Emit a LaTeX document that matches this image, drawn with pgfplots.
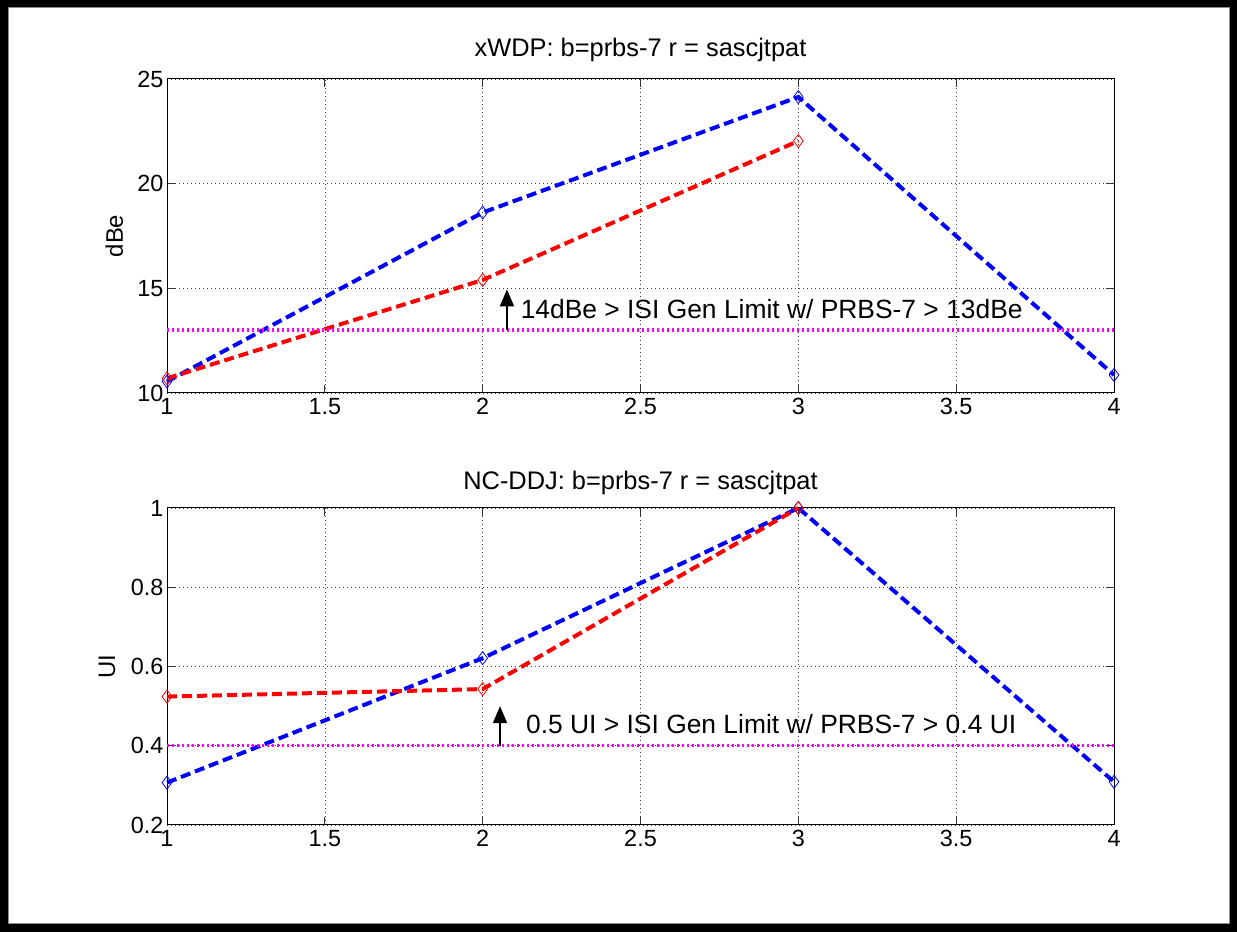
\documentclass[border=0pt]{standalone}
\usepackage{fontspec}
\setmainfont{Liberation Sans}
\usepackage{pgfplots}
\pgfplotsset{compat=1.18}
\usetikzlibrary{arrows.meta}
\pgfplotsset{
  mlaxis/.style={
    scale only axis, width=947bp, xmin=1, xmax=4,
    xtick={1,1.5,2,2.5,3,3.5,4},
    grid=major,
    major grid style={black!75, line width=0.6bp, dash pattern=on 1bp off 3bp},
    tick align=inside, major tick length=8bp,
    tick style={black!80, line width=1bp},
    axis line style={black, line width=1bp},
    /pgf/number format/assume math mode=true,
    tick label style={font=\fontsize{23.5}{27}\selectfont},
    xticklabel style={yshift=-2bp},
    title style={font=\fontsize{25.5}{29}\selectfont, at={(axis description cs:0.5,1)}, anchor=base},
    ylabel style={font=\fontsize{24}{28}\selectfont, anchor=base},
    clip=false,
  },
  bl/.style={color={rgb,1:red,0;green,0;blue,1}, line width=4bp, dash pattern=on 10bp off 5bp,
    mark=diamond, mark size=6.5bp, mark options={solid, line width=0.8bp}},
  rd/.style={color={rgb,1:red,1;green,0;blue,0}, line width=4bp, dash pattern=on 10bp off 5bp,
    mark=diamond, mark size=6.5bp, mark options={solid, line width=0.8bp}},
  mg/.style={color={rgb,1:red,1;green,0;blue,1}, line width=3.5bp, dash pattern=on 1.5bp off 3.5bp},
}
\begin{document}
\begin{tikzpicture}
\path[use as bounding box] (0,0) rectangle (1237bp,932bp);
\fill[white] (0,0) rectangle (1237bp,932bp);
\draw[black, line width=7.5bp] (3.75bp,3.75bp) rectangle (1233.25bp,928.25bp);
\draw[black!45, line width=1bp] (8bp,8bp) rectangle (1229bp,924bp);

% top axis
\begin{axis}[mlaxis, height=314bp, at={(167bp,539bp)}, anchor=south west,
  ymin=10, ymax=25, ytick={10,15,20,25},
  title={xWDP: b=prbs-7 r = sascjtpat}, title style={yshift=17bp},
  ylabel={dBe}, ylabel style={at={(axis description cs:-0.0465,0.5)}}]
\addplot[bl] coordinates {(1,10.55) (2,18.62) (3,24.14) (4,10.86)};
\addplot[rd] coordinates {(1,10.70) (2,15.40) (3,22.04)};
\addplot[mg] coordinates {(1,13) (4,13)};
\draw[black, line width=1.8bp, -{Triangle[length=17bp,width=14bp]}] (axis cs:2.077,13) -- (axis cs:2.077,14.95);
\node[anchor=base west, inner sep=0pt, font=\fontsize{26.5}{30}\selectfont] at (axis cs:2.12,13.57) {14dBe > ISI Gen Limit w/ PRBS-7 > 13dBe};
\end{axis}

% bottom axis
\begin{axis}[mlaxis, height=317bp, at={(167bp,107bp)}, anchor=south west,
  ymin=0.2, ymax=1, ytick={0.2,0.4,0.6,0.8,1},
  title={NC-DDJ: b=prbs-7 r = sascjtpat}, title style={yshift=13bp},
  ylabel={UI}, ylabel style={at={(axis description cs:-0.0549,0.5)}}]
\addplot[bl] coordinates {(1,0.307) (2,0.621) (3,1.0) (4,0.309)};
\addplot[rd] coordinates {(1,0.524) (2,0.543) (3,1.0)};
\addplot[mg] coordinates {(1,0.4) (4,0.4)};
\draw[black, line width=1.8bp, -{Triangle[length=17bp,width=14bp]}] (axis cs:2.055,0.4) -- (axis cs:2.055,0.5);
\node[anchor=base west, inner sep=0pt, font=\fontsize{26.5}{30}\selectfont] at (axis cs:2.137,0.43) {0.5 UI > ISI Gen Limit w/ PRBS-7 > 0.4 UI};
\end{axis}
\end{tikzpicture}
\end{document}
